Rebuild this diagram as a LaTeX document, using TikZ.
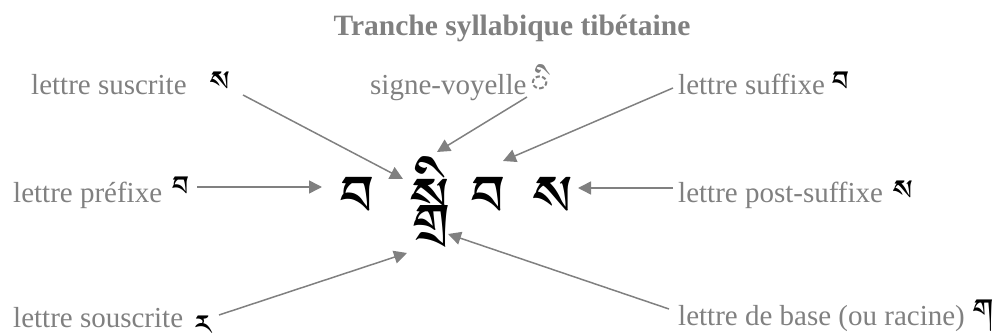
\documentclass[tikz,border=0pt]{standalone}
\usepackage{fontspec}
\setmainfont{Liberation Serif}
\usetikzlibrary{arrows.meta}
% Tibetan face: first installed candidate wins
\IfFontExistsTF{Jomolhari}{\newfontfamily\tibfont[Script=Tibetan]{Jomolhari}}{%
 \IfFontExistsTF{Tibetan Machine Uni}{\newfontfamily\tibfont[Script=Tibetan]{Tibetan Machine Uni}}{%
  \IfFontExistsTF{Microsoft Himalaya}{\newfontfamily\tibfont[Script=Tibetan]{Microsoft Himalaya}}{%
   \newfontfamily\tibfont{DejaVu Sans}}}}
\definecolor{labelgray}{HTML}{808080}
\definecolor{arrowgray}{HTML}{808080}
\begin{document}
\begin{tikzpicture}[x=1pt,y=-1pt,
  lbl/.style={inner sep=0pt, text=labelgray, font=\fontsize{29}{30}\selectfont},
  ttl/.style={inner sep=0pt, text=labelgray, font=\fontsize{29.5}{31}\selectfont\bfseries},
  tibsmall/.style={inner sep=0pt, text depth=0pt, text=black, font=\tibfont\fontsize{36}{40}\selectfont},
  tibbig/.style={inner sep=0pt, text=black, font=\tibfont\fontsize{72}{80}\selectfont},
  arr/.style={draw=arrowgray, line width=1.5pt, -{Triangle[length=13pt,width=13pt]}}]
\useasboundingbox (0,0) rectangle (999,336);

% title
\node[ttl, anchor=base] (title) at (512,36) {Tranche syllabique tibétaine};

% the syllable
\node[tibbig, anchor=base] (pre)  at (358,231) {བ};
\node[tibbig, anchor=base] (root) at (430,233) {སྒྲི};
\node[tibbig, anchor=base] (suf)  at (489,231) {བ};
\node[tibbig, anchor=base] (post) at (553,231) {ས};

% labels and their sample letters
\node[lbl, anchor=base west] (lsus) at (31,95) {lettre suscrite};
\node[tibsmall, anchor=base west] (tsus) at (210,99) {ས};
\node[lbl, anchor=base west] (lvow) at (370,95) {signe-voyelle};
\node[tibsmall, anchor=base west, text=labelgray] (tvow) at (528,103) {ི};
\node[lbl, anchor=base west] (lsuf) at (678,95) {lettre suffixe};
\node[tibsmall, anchor=base west] (tsuf) at (832,99) {བ};
\node[lbl, anchor=base west] (lpre) at (13,203) {lettre préfixe};
\node[tibsmall, anchor=base west] (tpre) at (172,204) {བ};
\node[lbl, anchor=base west] (lpost) at (678,203) {lettre post-suffixe};
\node[tibsmall, anchor=base west] (tpost) at (893,208) {ས};
\node[lbl, anchor=base west] (lsub) at (13,328) {lettre souscrite};
\node[tibsmall, anchor=base west] (tsub) at (195,343) {ར};
\node[lbl, anchor=base west] (lroot) at (678,326) {lettre de base (ou racine)};
\node[tibsmall, anchor=base west] (troot) at (973,327) {ག};

% connector ends
\coordinate (sus-a) at (243,95);   \coordinate (sus-b) at (403,179);
\coordinate (vow-a) at (527,97);   \coordinate (vow-b) at (437,152);
\coordinate (suf-a) at (673,88);   \coordinate (suf-b) at (503,161);
\coordinate (pre-a) at (197,187);  \coordinate (pre-b) at (322,187);
\coordinate (post-a) at (673,188); \coordinate (post-b) at (578,188);
\coordinate (sub-a) at (219,315);  \coordinate (sub-b) at (407,253);
\coordinate (root-a) at (669,309); \coordinate (root-b) at (448,234);

\draw[arr] (sus-a) -- (sus-b);
\draw[arr] (vow-a) -- (vow-b);
\draw[arr] (suf-a) -- (suf-b);
\draw[arr] (pre-a) -- (pre-b);
\draw[arr] (post-a) -- (post-b);
\draw[arr] (sub-a) -- (sub-b);
\draw[arr] (root-a) -- (root-b);
\end{tikzpicture}
\end{document}
